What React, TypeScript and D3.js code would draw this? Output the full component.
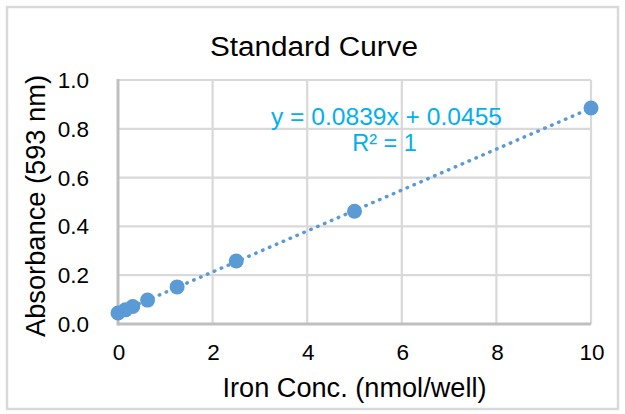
import React from "react";
import * as d3 from "d3";

const concentrations = [0, 0.15625, 0.3125, 0.625, 1.25, 2.5, 5, 10];
const absorbances = [0.045, 0.058, 0.072, 0.098, 0.152, 0.258, 0.462, 0.885];
const xTicks = [0, 2, 4, 6, 8, 10];
const yTicks = [0, 0.2, 0.4, 0.6, 0.8, 1.0];
const trendSlope = 0.0839;
const trendIntercept = 0.0455;
const trendRange = [0, 10];
const titleText = "Standard Curve";
const xLabel = "Iron Conc. (nmol/well)";
const yLabel = "Absorbance (593 nm)";
const equationLines = ["y = 0.0839x + 0.0455", "R² = 1"];

const W = 625;
const H = 414;
const FONT = "Arial, 'Liberation Sans', sans-serif";

export default function App() {
  const x = d3.scaleLinear().domain([0, 10]).range([118, 591]);
  const y = d3.scaleLinear().domain([0, 1]).range([324, 80]);
  const line = d3
    .line<number>()
    .x((d) => x(d))
    .y((d) => y(trendSlope * d + trendIntercept));

  return (
    <svg
      width={W}
      height={H}
      style={{ position: "absolute", left: 0, top: 0, display: "block", background: "#fff" }}
    >
      <rect x={0} y={0} width={W} height={H} fill="#fff" />
      <rect x={7} y={7} width={611} height={402} fill="none" stroke="#d9d9d9" strokeWidth={2.5} />
      <text
        x={314}
        y={56}
        textAnchor="middle"
        fontFamily={FONT}
        fontSize={27}
        fill="#000"
        textLength={208}
        lengthAdjust="spacingAndGlyphs"
      >
        {titleText}
      </text>
      {yTicks.slice(1).map((t) => (
        <line key={"gy" + t} x1={x(0)} x2={x(10)} y1={y(t)} y2={y(t)} stroke="#d9d9d9" strokeWidth={2.2} />
      ))}
      {xTicks.slice(1).map((t) => (
        <line key={"gx" + t} x1={x(t)} x2={x(t)} y1={y(0)} y2={y(1)} stroke="#d9d9d9" strokeWidth={2.2} />
      ))}
      <line x1={x(0)} x2={x(0)} y1={y(0) + 1.5} y2={y(1) - 1} stroke="#bfbfbf" strokeWidth={3} />
      <line x1={x(0)} x2={x(10)} y1={y(0)} y2={y(0)} stroke="#bfbfbf" strokeWidth={3} />
      {yTicks.map((t) => (
        <text
          key={"ty" + t}
          x={89}
          y={y(t) + 8}
          textAnchor="end"
          fontFamily={FONT}
          fontSize={22.5}
          fill="#000"
        >
          {t.toFixed(1)}
        </text>
      ))}
      {xTicks.map((t) => (
        <text
          key={"tx" + t}
          x={x(t) + 1}
          y={360}
          textAnchor="middle"
          fontFamily={FONT}
          fontSize={22.5}
          fill="#000"
        >
          {String(t)}
        </text>
      ))}
      <text
        x={354.5}
        y={397}
        textAnchor="middle"
        fontFamily={FONT}
        fontSize={27}
        fill="#000"
        textLength={264}
        lengthAdjust="spacingAndGlyphs"
      >
        {xLabel}
      </text>
      <text
        transform={`translate(45,206) rotate(-90)`}
        textAnchor="middle"
        fontFamily={FONT}
        fontSize={27}
        fill="#000"
        textLength={262}
        lengthAdjust="spacingAndGlyphs"
      >
        {yLabel}
      </text>
      <path
        d={line(trendRange) || ""}
        fill="none"
        stroke="#5b9bd5"
        strokeWidth={3.5}
        strokeDasharray="0.5 7"
        strokeLinecap="round"
      />
      {concentrations.map((c, i) => (
        <circle key={"p" + i} cx={x(c)} cy={y(absorbances[i])} r={7.5} fill="#5b9bd5" />
      ))}
      <text
        x={386.5}
        y={125}
        textAnchor="middle"
        fontFamily={FONT}
        fontSize={23.5}
        fill="#00b0f0"
        textLength={231}
        lengthAdjust="spacingAndGlyphs"
      >
        {equationLines[0]}
      </text>
      <text
        x={384.5}
        y={151}
        textAnchor="middle"
        fontFamily={FONT}
        fontSize={23.5}
        fill="#00b0f0"
      >
        {equationLines[1]}
      </text>
    </svg>
  );
}
